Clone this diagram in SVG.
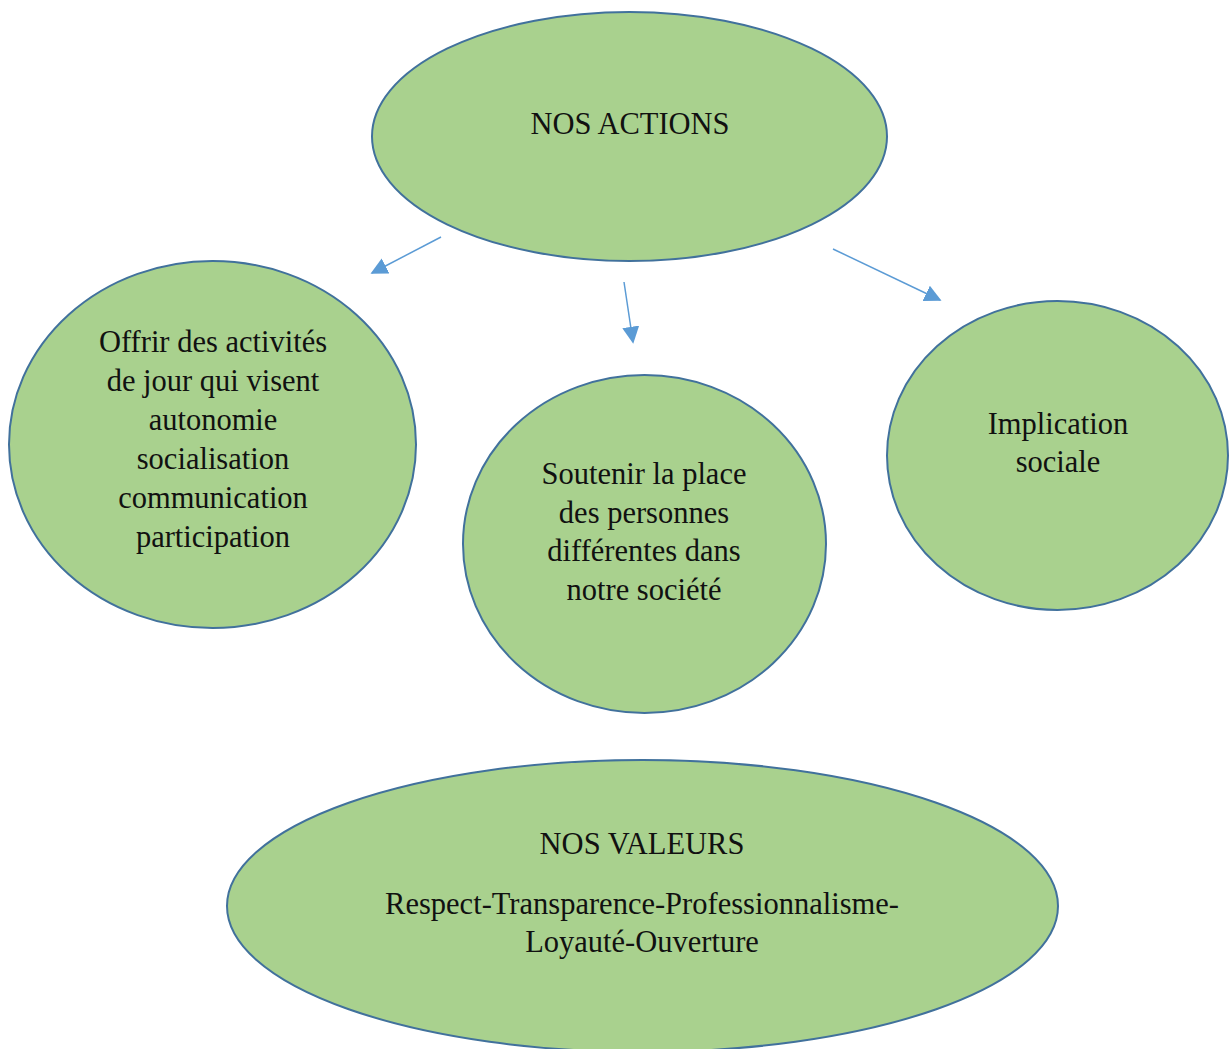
<svg xmlns="http://www.w3.org/2000/svg" width="1232" height="1049" viewBox="0 0 1232 1049">
<style>
.node{fill:#A9D18E;stroke:#41719C;stroke-width:2}
.t{font-family:"Liberation Serif","DejaVu Serif",serif;font-size:30.5px;fill:#111;text-anchor:middle}
.c{stroke:#5B9BD5;stroke-width:1.5;fill:none}
</style>
<defs>
<marker id="ah" viewBox="0 0 10 10" refX="9" refY="5" markerWidth="17" markerHeight="17" markerUnits="userSpaceOnUse" orient="auto">
<path d="M0,0 L10,5 L0,10 z" fill="#5B9BD5"/>
</marker>
</defs>
<rect width="1232" height="1049" fill="#fff"/>
<g id="actions">
<ellipse class="node" cx="629.5" cy="136.5" rx="257.5" ry="124.5"/>
<text class="t" x="630" y="134">NOS ACTIONS</text>
</g>
<g id="offrir">
<ellipse class="node" cx="212.5" cy="444.5" rx="203.5" ry="183.5"/>
<text class="t" x="213" y="352">Offrir des activités</text>
<text class="t" x="213" y="391">de jour qui visent</text>
<text class="t" x="213" y="430">autonomie</text>
<text class="t" x="213" y="469">socialisation</text>
<text class="t" x="213" y="508">communication</text>
<text class="t" x="213" y="547">participation</text>
</g>
<g id="soutenir">
<ellipse class="node" cx="644.5" cy="544" rx="181.5" ry="169"/>
<text class="t" x="644" y="484">Soutenir la place</text>
<text class="t" x="644" y="523">des personnes</text>
<text class="t" x="644" y="561">différentes dans</text>
<text class="t" x="644" y="600">notre société</text>
</g>
<g id="implication">
<ellipse class="node" cx="1057.5" cy="455.5" rx="170.5" ry="154.5"/>
<text class="t" x="1058" y="434">Implication</text>
<text class="t" x="1058" y="472">sociale</text>
</g>
<g id="valeurs">
<ellipse class="node" cx="642.5" cy="906" rx="415.5" ry="146"/>
<text class="t" x="642" y="854">NOS VALEURS</text>
<text class="t" x="642" y="914">Respect-Transparence-Professionnalisme-</text>
<text class="t" x="642" y="952">Loyauté-Ouverture</text>
</g>
<g id="connectors">
<line class="c" x1="441" y1="237" x2="372" y2="273" marker-end="url(#ah)"/>
<line class="c" x1="624" y1="282" x2="633" y2="342" marker-end="url(#ah)"/>
<line class="c" x1="833" y1="249" x2="940" y2="300" marker-end="url(#ah)"/>
</g>
</svg>
